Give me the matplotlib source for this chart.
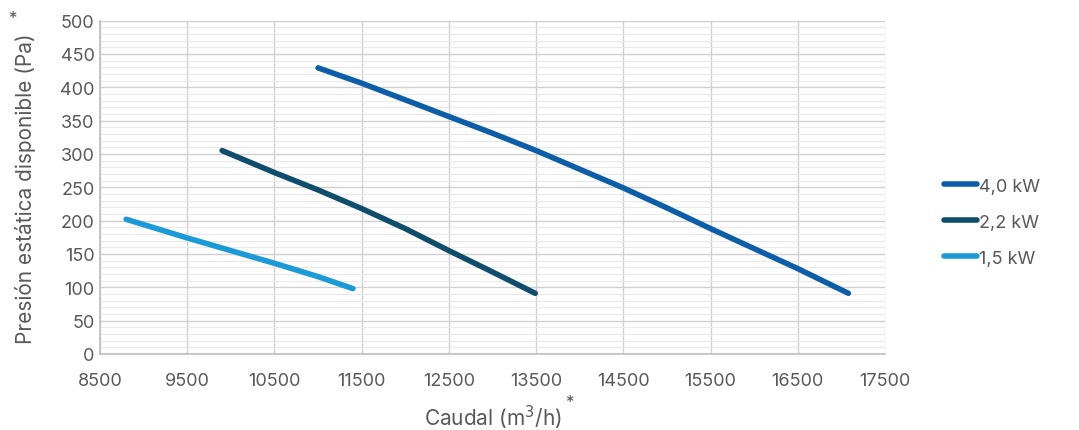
import matplotlib
matplotlib.use("Agg")
import matplotlib.pyplot as plt
from matplotlib.ticker import MultipleLocator

plt.rcParams['font.family'] = ['Inter', 'DejaVu Sans']

x_40 = [11000, 11500, 12000, 12500, 13000, 13500, 14000, 14500, 15000, 15500, 16000, 16500, 17080]
y_40 = [429, 406, 381, 356, 331, 305, 277, 249, 219, 188, 158, 128, 91]
x_22 = [9900, 10500, 11000, 11500, 12000, 12500, 13000, 13490]
y_22 = [305, 272, 246, 218, 188, 155, 123, 91]
x_15 = [8800, 9500, 10000, 10500, 11000, 11400]
y_15 = [202, 174, 155, 136, 116, 98]

series_labels = ['4,0 kW', '2,2 kW', '1,5 kW']
colors = ['#0c5ea8', '#0e4d6b', '#1a9bd7']
xticks = [8500, 9500, 10500, 11500, 12500, 13500, 14500, 15500, 16500, 17500]

fig = plt.figure(figsize=(10.79, 4.31), dpi=100)
ax = fig.add_axes([100/1079, 1-355/431, 785/1079, (355-21.5)/431])

for xs, ys, lab, c in zip([x_40, x_22, x_15], [y_40, y_22, y_15], series_labels, colors):
    ax.plot(xs, ys, color=c, lw=4, solid_capstyle='round', solid_joinstyle='round', label=lab)

ax.set_xlim(8500, 17500)
ax.set_ylim(0, 500)
ax.set_xticks(xticks)
ax.yaxis.set_major_locator(MultipleLocator(50))
ax.yaxis.set_minor_locator(MultipleLocator(10))
ax.grid(which='major', color='#d0d0d0', lw=1)
ax.yaxis.grid(which='minor', color='#e9e9e9', lw=0.8)
ax.set_axisbelow(True)
for s in ['top', 'right']:
    ax.spines[s].set_visible(False)
for s in ['left', 'bottom']:
    ax.spines[s].set_color('#bfbfbf')
    ax.spines[s].set_linewidth(1.2)
ax.tick_params(which='both', length=0, labelsize=13, labelcolor='#595959')
ax.tick_params(axis='x', pad=13)
ax.tick_params(axis='y', pad=4)

ax.set_xlabel('Caudal (m$^3$/h)', fontsize=15, color='#595959')
ax.xaxis.set_label_coords(0.5, -0.145)
ax.set_ylabel('Presión estática disponible (Pa)', fontsize=15, color='#595959')
ax.yaxis.set_label_coords(-0.081, 0.5)

fig.text(12/1079, 1-18/431, '*', fontsize=12, color='#595959', ha='center', va='center')
fig.text(569/1079, 1-403/431, '*', fontsize=12, color='#595959', ha='center', va='center')

leg = ax.legend(loc='center left', bbox_to_anchor=(1.054, 0.395), frameon=False,
                fontsize=13, handlelength=1.85, handletextpad=0.12, labelspacing=1.05)
for t in leg.get_texts():
    t.set_color('#595959')

fig.savefig('out.png', dpi=100)
